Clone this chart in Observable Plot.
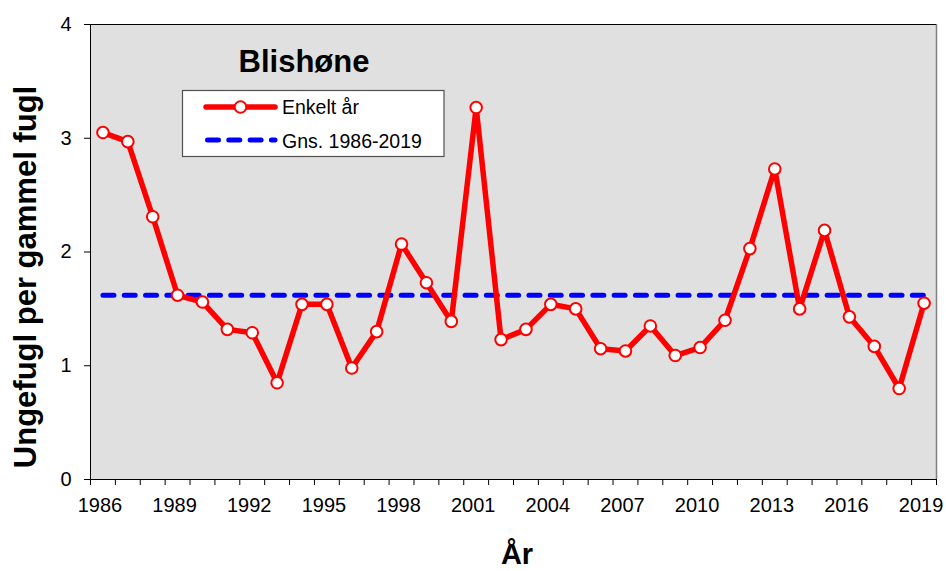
<!DOCTYPE html>
<html><head><meta charset="utf-8">
<script src="https://cdn.jsdelivr.net/npm/d3@7"></script>
<script src="https://cdn.jsdelivr.net/npm/@observablehq/plot@0.6"></script>
<style>body{margin:0;background:#fff;} svg{display:block;}</style>
</head><body><div id="chart"></div>
<script>
const years = [1986,1987,1988,1989,1990,1991,1992,1993,1994,1995,1996,1997,1998,1999,2000,2001,2002,2003,2004,2005,2006,2007,2008,2009,2010,2011,2012,2013,2014,2015,2016,2017,2018,2019];
const values = [3.05,2.97,2.31,1.62,1.56,1.32,1.29,0.85,1.54,1.54,0.98,1.30,2.07,1.73,1.39,3.27,1.23,1.32,1.54,1.50,1.15,1.13,1.35,1.09,1.16,1.40,2.03,2.73,1.50,2.19,1.43,1.17,0.80,1.55];
const xLabelYears = [1986,1989,1992,1995,1998,2001,2004,2007,2010,2013,2016,2019];
const yTicks = [0,1,2,3,4];
const seriesNames = ["Enkelt år", "Gns. 1986-2019"];
const chartTitle = "Blishøne";
const yTitle = "Ungefugl per gammel fugl";
const xTitle = "År";

const data = years.map((year, i) => ({year, value: values[i]}));
const mean = d3.mean(values);
const meanData = [{year: years[0], value: mean}, {year: years[years.length - 1], value: mean}];
const bounds = [years[0] - 0.5, years[years.length - 1] + 0.5];

const font = "'Liberation Sans', Arial, sans-serif";

const chart = Plot.plot({
  width: 946,
  height: 571,
  marginLeft: 90,
  marginRight: 10,
  marginTop: 24,
  marginBottom: 92,
  style: {fontFamily: font, background: "white", color: "black"},
  x: {domain: bounds},
  y: {domain: [0, 4]},
  marks: [
    Plot.frame({fill: "#e0e0e0", stroke: null}),
    Plot.ruleX([bounds[1]], {stroke: "#808080", strokeWidth: 1.5}),
    Plot.ruleY([4], {stroke: "black"}),
    Plot.ruleY([0], {stroke: "black"}),
    Plot.ruleX([bounds[0]], {stroke: "black"}),
    Plot.axisY({ticks: yTicks, tickSize: 6, tickPadding: 13, fontSize: 20, label: null, tickFormat: d => String(d)}),
    Plot.axisX({ticks: d3.range(bounds[0], bounds[1] + 0.01, 1), tickSize: 6, tickFormat: () => "", label: null}),
    Plot.axisX({ticks: xLabelYears, tickSize: 0, tickPadding: 18, fontSize: 20, dx: -3, tickFormat: d => String(d), label: null}),
    Plot.line(meanData, {x: "year", y: "value", stroke: "#0000ff", strokeWidth: 5, strokeDasharray: "11,10.3", strokeLinecap: "round"}),
    Plot.line(data, {x: "year", y: "value", stroke: "#ff0000", strokeWidth: 5.5, strokeLinejoin: "round"}),
    Plot.dot(data, {x: "year", y: "value", r: 5.8, fill: "white", stroke: "#ff0000", strokeWidth: 2})
  ]
});

const svg = d3.select(chart);
svg.append("text")
  .attr("x", 304).attr("y", 72)
  .attr("text-anchor", "middle")
  .attr("font-family", font).attr("font-weight", "bold").attr("font-size", 31)
  .attr("fill", "black")
  .text(chartTitle);

svg.append("text")
  .attr("transform", "translate(36,277) rotate(-90)")
  .attr("text-anchor", "middle")
  .attr("font-family", font).attr("font-weight", "bold").attr("font-size", 31)
  .attr("fill", "black")
  .text(yTitle);

svg.append("text")
  .attr("x", 517).attr("y", 564)
  .attr("text-anchor", "middle")
  .attr("font-family", font).attr("font-weight", "bold").attr("font-size", 29)
  .attr("fill", "black")
  .text(xTitle);

const lg = svg.append("g");
lg.append("rect").attr("x", 182.5).attr("y", 90.5).attr("width", 261.5).attr("height", 66)
  .attr("fill", "white").attr("stroke", "#505050").attr("stroke-width", 1.2);
lg.append("line").attr("x1", 206).attr("x2", 275).attr("y1", 107).attr("y2", 107)
  .attr("stroke", "#ff0000").attr("stroke-width", 5.5).attr("stroke-linecap", "round");
lg.append("circle").attr("cx", 240.5).attr("cy", 107).attr("r", 5.8)
  .attr("fill", "white").attr("stroke", "#ff0000").attr("stroke-width", 2);
lg.append("line").attr("x1", 207.5).attr("x2", 275).attr("y1", 140).attr("y2", 140)
  .attr("stroke", "#0000ff").attr("stroke-width", 5).attr("stroke-dasharray", "11,10.3").attr("stroke-linecap", "round");
lg.append("text").attr("x", 282).attr("y", 114).attr("text-anchor", "start").attr("font-family", font).attr("font-size", 19.5).attr("fill", "black").text(seriesNames[0]);
lg.append("text").attr("x", 282).attr("y", 147.5).attr("text-anchor", "start").attr("font-family", font).attr("font-size", 19.5).attr("fill", "black").text(seriesNames[1]);

document.getElementById("chart").appendChild(chart);
</script>
</body></html>
